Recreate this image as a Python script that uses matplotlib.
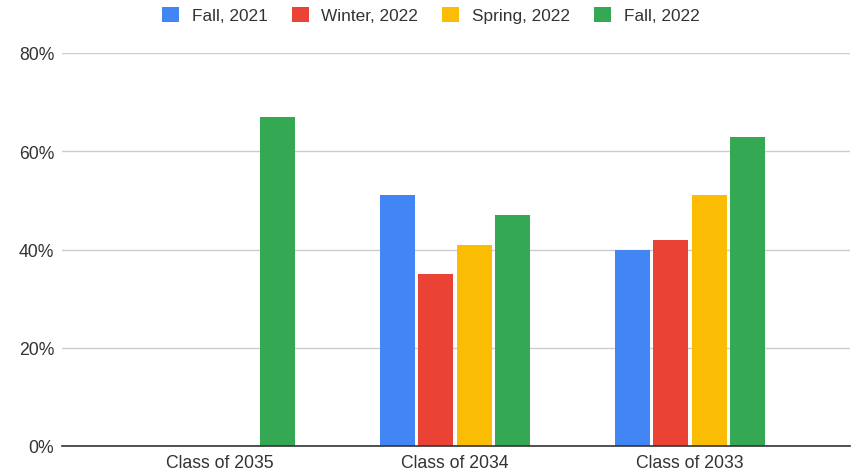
import numpy as np
import matplotlib.pyplot as plt
from matplotlib.ticker import FuncFormatter

plt.rcParams['font.family'] = ['Liberation Sans', 'DejaVu Sans']

categories = ['Class of 2035', 'Class of 2034', 'Class of 2033']
series_names = ['Fall, 2021', 'Winter, 2022', 'Spring, 2022', 'Fall, 2022']
fall_2021 = [np.nan, 51, 40]
winter_2022 = [np.nan, 35, 42]
spring_2022 = [np.nan, 41, 51]
fall_2022 = [67, 47, 63]
colors = ['#4285F4', '#EA4335', '#FBBC04', '#34A853']

W, H = 868, 477
fig = plt.figure(figsize=(W / 100, H / 100), dpi=100)
ax = fig.add_axes([62 / W, 1 - 447 / H, (850 - 62) / W, (447 - 54) / H])

x = np.arange(len(categories))
step = 0.163
width = 0.149
for i, (vals, name, c) in enumerate(zip([fall_2021, winter_2022, spring_2022, fall_2022],
                                         series_names, colors)):
    ax.bar(x + (i - 1.5) * step, vals, width, color=c, label=name, zorder=3)

ax.set_xlim(-0.672, 2.68)
ax.set_ylim(0, 80)
ax.set_yticks([0, 20, 40, 60, 80])
ax.yaxis.set_major_formatter(FuncFormatter(lambda v, p: f'{v:.0f}%'))
ax.set_xticks(x)
ax.set_xticklabels(categories)
ax.grid(axis='y', color='#cccccc', linewidth=1, zorder=0)
for s in ['top', 'right', 'left']:
    ax.spines[s].set_visible(False)
ax.spines['bottom'].set_color('#333333')
ax.spines['bottom'].set_linewidth(1.2)
ax.spines['bottom'].set_zorder(4)
ax.tick_params(axis='both', length=0, labelsize=12.7, colors='#333333')
ax.tick_params(axis='y', pad=5.5)
ax.tick_params(axis='x', pad=6)

fig.legend(loc='center left', bbox_to_anchor=(162 / W, 1 - 16 / H), ncol=4, frameon=False,
           fontsize=12.4, handlelength=1.0, handleheight=1.0, handletextpad=0.72,
           columnspacing=1.4, borderpad=0, borderaxespad=0, labelcolor='#333333')

fig.savefig('out.png', dpi=100)
